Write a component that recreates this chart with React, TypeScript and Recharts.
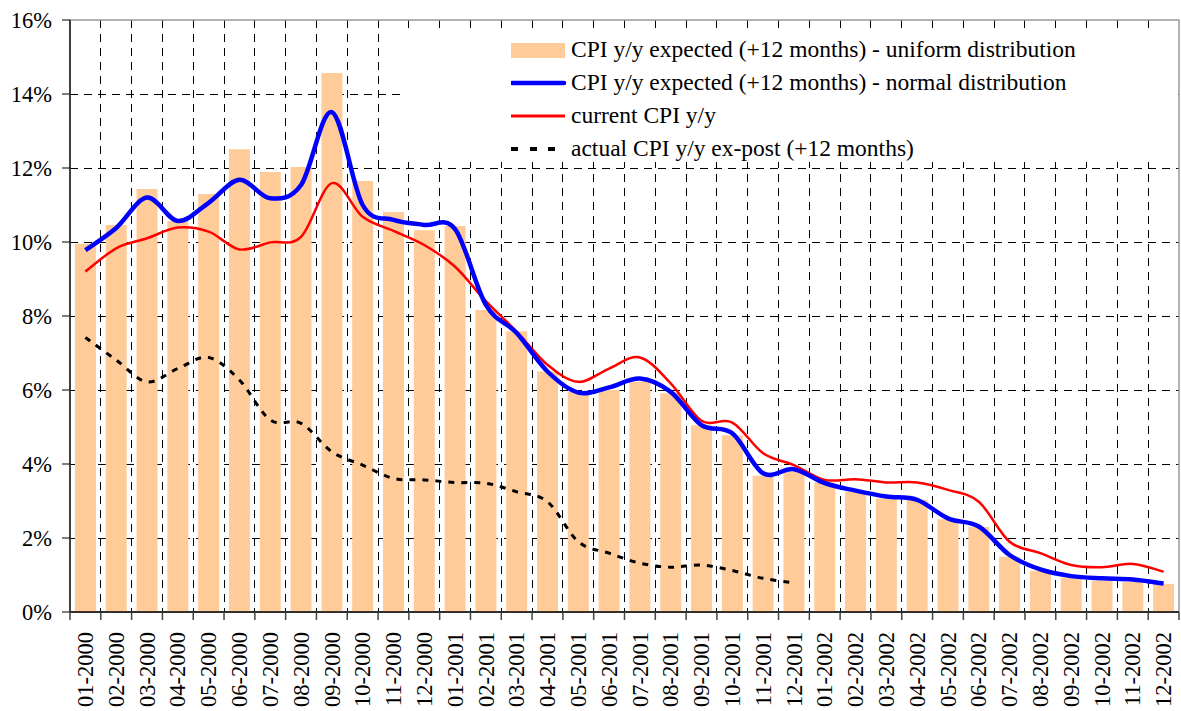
import React from "react";
import {
  ComposedChart,
  Bar,
  Line,
  XAxis,
  YAxis,
  CartesianGrid,
  ReferenceArea,
  Legend,
} from "recharts";

const months = [
  "01-2000", "02-2000", "03-2000", "04-2000", "05-2000", "06-2000",
  "07-2000", "08-2000", "09-2000", "10-2000", "11-2000", "12-2000",
  "01-2001", "02-2001", "03-2001", "04-2001", "05-2001", "06-2001",
  "07-2001", "08-2001", "09-2001", "10-2001", "11-2001", "12-2001",
  "01-2002", "02-2002", "03-2002", "04-2002", "05-2002", "06-2002",
  "07-2002", "08-2002", "09-2002", "10-2002", "11-2002", "12-2002",
];

const uniformExpected = [
  9.95, 10.46, 11.43, 10.57, 11.3, 12.51, 11.89, 12.03, 14.57, 11.65, 10.81, 10.32,
  10.43, 8.16, 7.59, 6.5, 5.95, 6.0, 6.22, 5.91, 5.05, 4.78, 3.68, 3.8,
  3.5, 3.25, 3.07, 3.03, 2.51, 2.3, 1.49, 1.11, 0.93, 0.84, 0.81, 0.76,
];

const normalExpected = [
  9.78, 10.38, 11.2, 10.57, 11.06, 11.68, 11.18, 11.54, 13.51, 11.0, 10.6, 10.46,
  10.35, 8.3, 7.54, 6.5, 5.93, 6.07, 6.31, 5.95, 5.05, 4.83, 3.75, 3.86,
  3.48, 3.28, 3.12, 3.03, 2.53, 2.31, 1.54, 1.15, 0.97, 0.91, 0.88, 0.77,
];

const currentCpi = [
  9.2, 9.83, 10.1, 10.39, 10.28, 9.8, 9.99, 10.14, 11.59, 10.68, 10.3, 9.92,
  9.33, 8.4, 7.58, 6.68, 6.22, 6.58, 6.88, 6.18, 5.17, 5.12, 4.29, 3.97,
  3.57, 3.59, 3.5, 3.5, 3.3, 2.98, 1.9, 1.59, 1.27, 1.21, 1.3, 1.09,
];

const actualExPost = [
  7.42, 6.81, 6.22, 6.58, 6.88, 6.27, 5.19, 5.1, 4.33, 3.97, 3.61, 3.57,
  3.5, 3.48, 3.25, 2.98, 1.9, 1.59, 1.32, 1.21, 1.27, 1.12, 0.91, 0.79,
];

const yTicks = [0, 2, 4, 6, 8, 10, 12, 14, 16];
const gridYValues = [2, 4, 6, 8, 10, 12, 14];
const boundaryTicks = Array.from({ length: months.length + 1 }, (_, i) => i);
const innerBoundaries = boundaryTicks.slice(1, -1);

const seriesNames = {
  uniform: "CPI y/y expected (+12 months) - uniform distribution",
  normal: "CPI y/y expected (+12 months) - normal distribution",
  current: "current CPI y/y",
  actual: "actual CPI y/y ex-post (+12 months)",
};

const data = months.map((m, i) => ({
  month: m,
  idx: i + 0.5,
  uniform: uniformExpected[i],
  normal: normalExpected[i],
  current: currentCpi[i],
  actual: i < actualExPost.length ? actualExPost[i] : null,
}));

const FONT = "Liberation Serif, DejaVu Serif";

// Excel-like smoothed line (Catmull-Rom style Bezier)
function excelSmooth(context: any) {
  let pts: number[][] = [];
  return {
    areaStart() {},
    areaEnd() {},
    lineStart() {
      pts = [];
    },
    point(x: number, y: number) {
      pts.push([+x, +y]);
    },
    lineEnd() {
      const n = pts.length;
      if (n === 0) return;
      context.moveTo(pts[0][0], pts[0][1]);
      if (n === 1) return;
      for (let i = 0; i < n - 1; i++) {
        const p0 = pts[Math.max(i - 1, 0)];
        const p1 = pts[i];
        const p2 = pts[i + 1];
        const p3 = pts[Math.min(i + 2, n - 1)];
        const c1x = p1[0] + (p2[0] - p0[0]) / 6;
        const c1y = p1[1] + (p2[1] - p0[1]) / 6;
        const c2x = p2[0] - (p3[0] - p1[0]) / 6;
        const c2y = p2[1] - (p3[1] - p1[1]) / 6;
        context.bezierCurveTo(c1x, c1y, c2x, c2y, p2[0], p2[1]);
      }
    },
  };
}

const EmptyTick = () => <g />;

const MonthTick = (props: any) => {
  const { x, y, payload } = props;
  return (
    <g transform={`translate(${x},${y + 19})`}>
      <text
        x={0}
        y={0}
        dy="0.34em"
        transform="rotate(-90)"
        textAnchor="end"
        fill="#000"
        fontSize={22.5}
        style={{ fontFamily: FONT }}
      >
        {payload.value}
      </text>
    </g>
  );
};

const YTick = (props: any) => {
  const { x, y, payload } = props;
  return (
    <text
      x={x}
      y={y}
      dy="0.36em"
      textAnchor="end"
      fill="#000"
      fontSize={22.5}
      style={{ fontFamily: FONT }}
    >
      {`${payload.value}%`}
    </text>
  );
};

const LegendContent = () => {
  const rows = [
    { key: "uniform", icon: <rect x={0} y={-7} width={54} height={15} fill="#FFCC99" /> },
    { key: "normal", icon: <line x1={1} y1={0} x2={53} y2={0} stroke="#0000FF" strokeWidth={4.5} strokeLinecap="round" /> },
    { key: "current", icon: <line x1={0} y1={0} x2={54} y2={0} stroke="#FF0000" strokeWidth={3} /> },
    {
      key: "actual",
      icon: (
        <g>
          <rect x={0} y={-2} width={7} height={4} fill="#000" />
          <rect x={19} y={-2} width={7} height={4} fill="#000" />
          <rect x={37} y={-2} width={7} height={4} fill="#000" />
        </g>
      ),
    },
  ];
  return (
    <div style={{ position: "relative", width: "100%", height: "100%" }}>
      {rows.map((r, i) => (
        <div
          key={r.key}
          style={{
            position: "absolute",
            left: 111,
            top: 22 + i * 33 - 16,
            height: 32,
            display: "flex",
            alignItems: "center",
            whiteSpace: "nowrap",
          }}
        >
          <svg width={60} height={32} style={{ display: "block" }}>
            <g transform="translate(0,16)">{r.icon}</g>
          </svg>
          <span
            style={{
              fontFamily: FONT,
              fontSize: 23.5,
              color: "#000",
              lineHeight: "32px",
              marginTop: -2,
            }}
          >
            {(seriesNames as any)[r.key]}
          </span>
        </div>
      ))}
    </div>
  );
};

export default function App() {
  return (
    <div style={{ position: "absolute", left: 0, top: 0, width: 1181, height: 711, background: "#fff", fontFamily: FONT }}>
      <ComposedChart
        width={1181}
        height={711}
        data={data}
        margin={{ top: 20, right: 2, bottom: 0, left: 0 }}
        barCategoryGap="16%"
        style={{ fontFamily: FONT }}
      >
        <XAxis
          xAxisId="a"
          type="number"
          dataKey="idx"
          domain={[0, 36]}
          allowDataOverflow
          ticks={boundaryTicks}
          interval={0}
          height={1}
          tick={<EmptyTick />}
          tickSize={8}
          tickLine={{ stroke: "#444", strokeWidth: 1.5 }}
          axisLine={{ stroke: "#000", strokeWidth: 1.5 }}
        />
        <XAxis
          xAxisId="b"
          dataKey="month"
          height={98}
          interval={0}
          tickLine={false}
          tickSize={0}
          tickMargin={0}
          tick={<MonthTick />}
          axisLine={false}
        />
        <YAxis
          width={70}
          domain={[0, 16]}
          ticks={yTicks}
          interval={0}
          tickSize={8}
          tickMargin={10}
          tick={<YTick />}
          tickLine={{ stroke: "#000" }}
          axisLine={{ stroke: "#404040", strokeWidth: 2 }}
        />
        <CartesianGrid
          xAxisId="a"
          horizontalValues={gridYValues}
          verticalValues={innerBoundaries}
          stroke="#000"
          strokeDasharray="8 6"
          shapeRendering="crispEdges"
        />
        <ReferenceArea
          xAxisId="a"
          x1={0}
          x2={36}
          y1={0}
          y2={16}
          fill="none"
          stroke="#9a9a9a"
          strokeWidth={1.5}
        />
        <Bar xAxisId="b" dataKey="uniform" name={seriesNames.uniform} fill="#FFCC99" isAnimationActive={false} />
        <Line
          xAxisId="b"
          dataKey="actual"
          name={seriesNames.actual}
          type={excelSmooth as any}
          stroke="#000"
          strokeWidth={3}
          strokeDasharray="6 7"
          dot={false}
          activeDot={false}
          connectNulls={false}
          isAnimationActive={false}
        />
        <Line
          xAxisId="b"
          dataKey="current"
          name={seriesNames.current}
          type={excelSmooth as any}
          stroke="#FF0000"
          strokeWidth={2.5}
          dot={false}
          activeDot={false}
          isAnimationActive={false}
        />
        <Line
          xAxisId="b"
          dataKey="normal"
          name={seriesNames.normal}
          type={excelSmooth as any}
          stroke="#0000FF"
          strokeWidth={4.5}
          dot={false}
          activeDot={false}
          isAnimationActive={false}
        />
        <Legend
          layout="horizontal"
          verticalAlign="middle"
          align="center"
          content={<LegendContent />}
          wrapperStyle={{
            position: "absolute",
            left: 400,
            top: 28,
            width: 778,
            height: 134,
            background: "#fff",
            margin: 0,
            padding: 0,
          }}
        />
      </ComposedChart>
    </div>
  );
}
